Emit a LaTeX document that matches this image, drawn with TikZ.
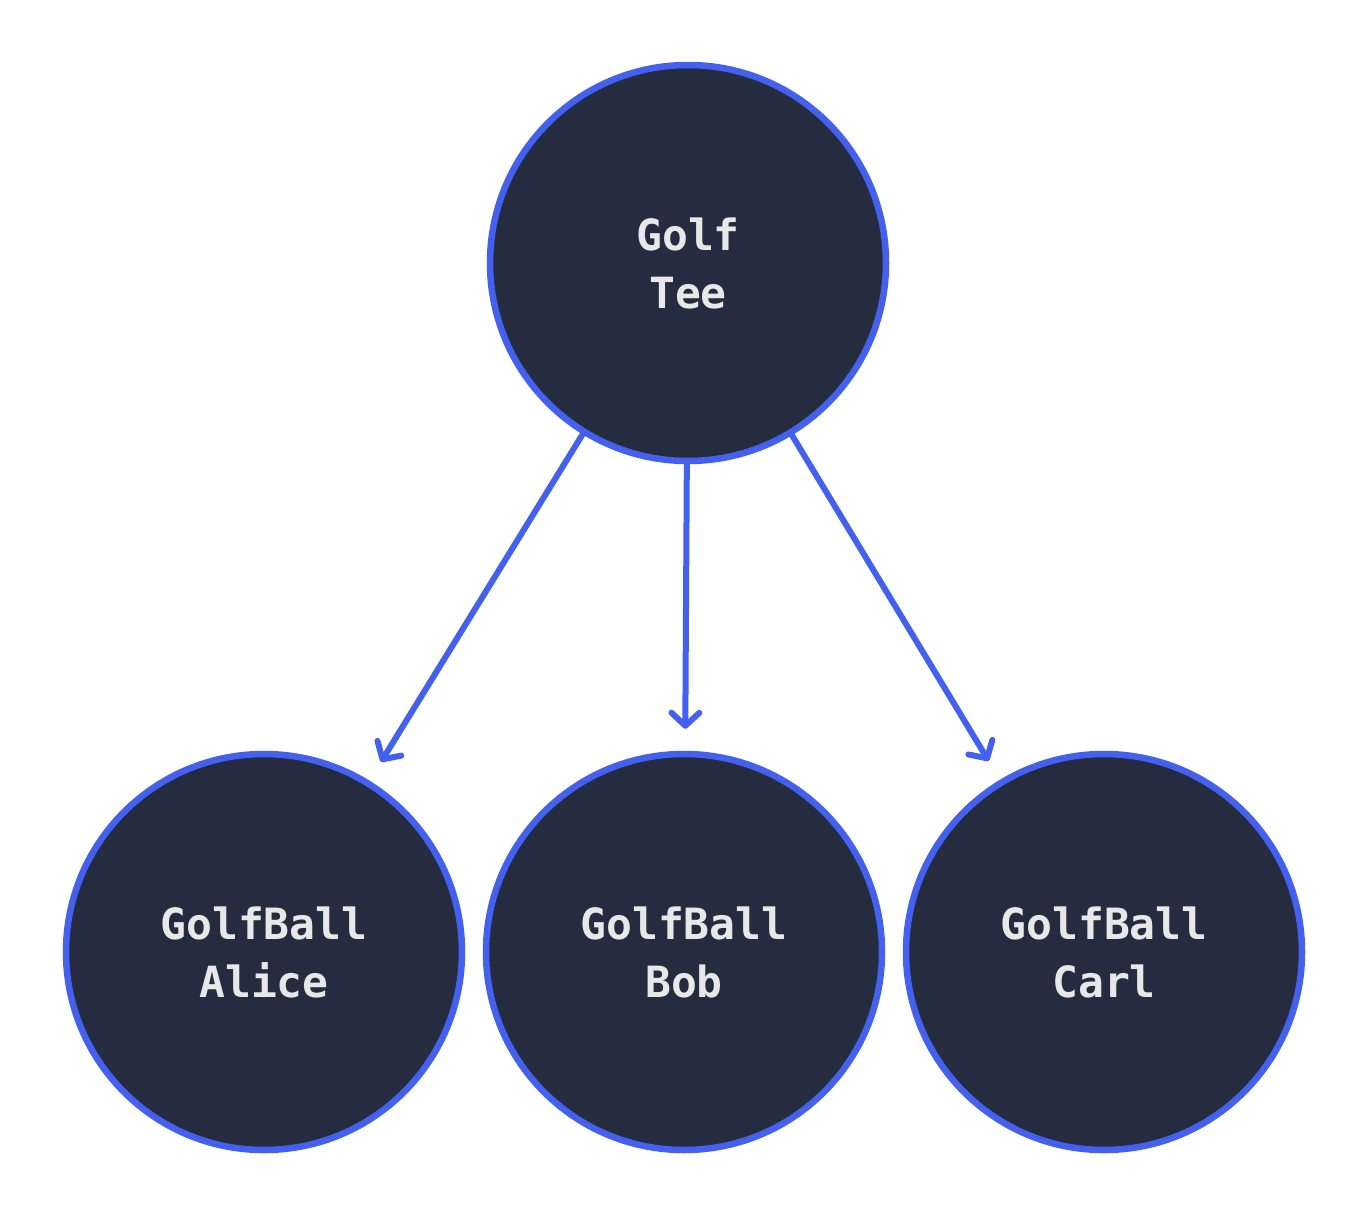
\documentclass[tikz,border=0pt]{standalone}
\usepackage{fontspec}
\setmonofont{DejaVu Sans Mono}
\usetikzlibrary{arrows.meta}
\definecolor{nodefill}{HTML}{262C40}
\definecolor{edgeblue}{HTML}{4361EE}
\definecolor{txt}{HTML}{E8E8E8}
\begin{document}
\begin{tikzpicture}[x=1pt,y=-1pt,
  ball/.style={circle, draw=edgeblue, fill=nodefill, line width=6.5pt,
    minimum size=396pt, inner sep=0pt, text=txt, align=center,
    font=\ttfamily\bfseries\fontsize{43}{58}\selectfont},
  link/.style={draw=edgeblue, line width=6pt, line cap=round,
    -{Straight Barb[length=13pt,width=28pt,line cap=round,line join=round]},
    shorten >=22pt}]
\useasboundingbox[fill=white] (0,0) rectangle (1368,1217);
\node[ball] (tee) at (688,263) {Golf\\Tee};
\node[ball] (alice) at (264,952) {GolfBall\\Alice};
\node[ball] (bob) at (684,952) {GolfBall\\Bob};
\node[ball] (carl) at (1104,952) {GolfBall\\Carl};
\draw[link] (tee) -- (alice);
\draw[link] (tee) -- (bob);
\draw[link] (tee) -- (carl);
\end{tikzpicture}
\end{document}
